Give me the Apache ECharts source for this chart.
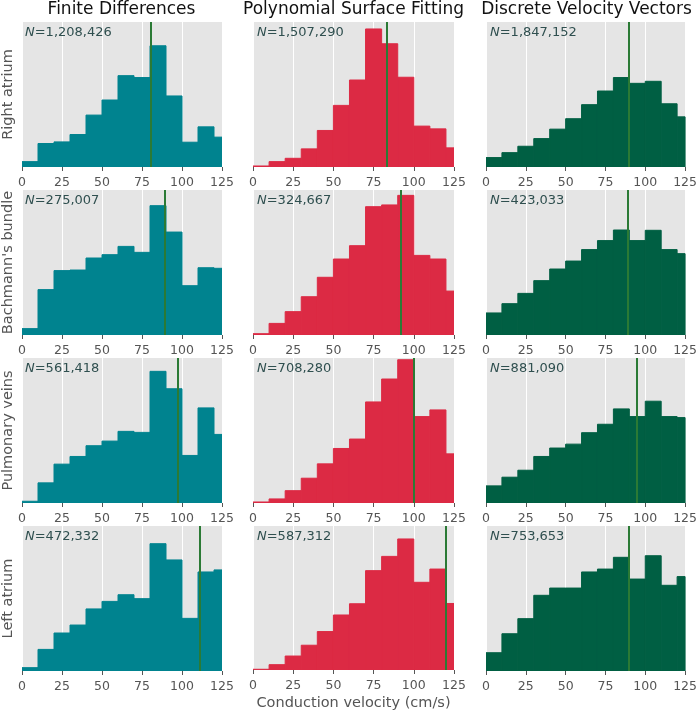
<!DOCTYPE html>
<html><head><meta charset="utf-8">
<script src="https://cdn.jsdelivr.net/npm/echarts@6/dist/echarts.min.js"></script>
<style>html,body{margin:0;padding:0;background:#fff}#c{width:700px;height:712px}</style>
</head><body><div id="c"></div>
<script>
// Bin edges (cm/s), width 10; last bin runs past 125 and is clipped
const binStarts = [0,10,20,30,40,50,60,70,80,90,100,110,120];
const binWidth = 10;
const methods = ['Finite Differences','Polynomial Surface Fitting','Discrete Velocity Vectors'];
const regions = ['Right atrium',"Bachmann's bundle",'Pulmonary veins','Left atrium'];
const xTicks = [0,25,50,75,100,125];

// Relative histogram heights (percent of panel height)
const raFD  = [3.7,16.2,17.3,22.4,35.8,46.2,63.0,61.7,83.6,49.0,17.1,27.7,20.6];
const raPSF = [0.7,3.7,6.0,12.5,25.2,42.5,60.0,95.2,85.0,61.9,28.2,26.3,13.2];
const raDVV = [6.5,9.9,14.3,19.6,26.1,33.3,43.0,52.4,61.7,57.7,59.1,43.6,34.6];
const bbFD  = [4.4,31.3,44.4,44.8,53.1,55.4,61.1,57.0,89.2,71.0,34.0,46.4,46.0];
const bbPSF = [0.9,8.0,16.1,26.4,39.8,52.4,61.6,88.5,89.7,96.3,54.9,52.4,30.3];
const bbDVV = [15.2,21.6,28.7,37.5,45.5,51.0,58.9,65.1,72.4,65.1,72.2,58.9,56.1];
const pvFD  = [1.2,13.9,26.8,32.1,39.5,42.7,49.4,48.7,90.8,78.8,32.8,65.6,47.3];
const pvPSF = [0.7,2.8,8.5,17.1,27.0,37.6,44.1,69.7,85.5,98.8,59.6,64.2,33.9];
const pvDVV = [11.8,17.8,22.6,32.1,37.9,40.6,48.5,54.3,64.9,59.6,70.2,59.6,58.9];
const laFD  = [2.3,14.9,26.2,31.7,42.8,48.0,52.6,49.9,87.8,76.6,36.3,68.3,69.7];
const laPSF = [0.5,3.7,9.7,17.2,26.7,38.2,46.0,69.0,78.9,91.0,60.9,70.1,46.2];
const laDVV = [12.6,25.7,36.1,52.2,57.2,57.2,68.3,70.3,78.4,63.4,79.5,59.1,65.1];

const heights = [[raFD,raPSF,raDVV],[bbFD,bbPSF,bbDVV],[pvFD,pvPSF,pvDVV],[laFD,laPSF,laDVV]];
// Mean lines (cm/s)
const means = [[80.3,83.1,89.6],[89.4,91.9,88.9],[97.1,99.8,94.5],[110.9,120.0,89.6]];
const counts = [['1,208,426','1,507,290','1,847,152'],['275,007','324,667','423,033'],
                ['561,418','708,280','881,090'],['472,332','587,312','753,653']];

const colors = ['#00838f','#dc2a44','#005f43'];
const lineColor = '#2b7a35';
const colLeft = [21,253,486], plotW = 201;
const rowTop = [22,190,358,526], plotH = 145;
const font = 'DejaVu Sans';

const grid=[], xAxis=[], yAxis=[], series=[], title=[];
let k=0;
for (let r=0;r<4;r++){
  for (let c=0;c<3;c++){
    grid.push({left:colLeft[c], top:rowTop[r], width:plotW, height:plotH,
      show:true, backgroundColor:'#e5e5e5', borderWidth:0});
    xAxis.push({type:'value', gridIndex:k, min:0, max:125, interval:25,
      axisLine:{show:false},
      axisTick:{show:true, length:4, lineStyle:{color:'#555'}},
      axisLabel:{color:'#555', fontSize:12.5, fontFamily:font, margin:9},
      splitLine:{show:true, lineStyle:{color:'#ffffff', width:1}},
      name:(r===3&&c===1)?'Conduction velocity (cm/s)':'',
      nameLocation:'middle', nameGap:26,
      nameTextStyle:{color:'#555', fontSize:14.5, fontFamily:font}});
    yAxis.push({type:'value', gridIndex:k, min:0, max:100,
      show:true, axisLine:{show:false}, axisTick:{show:false}, axisLabel:{show:false},
      splitLine:{show:false},
      name:c===0?regions[r]:'', nameLocation:'middle', nameGap:6, nameRotate:90,
      nameTextStyle:{color:'#555', fontSize:14.5, fontFamily:font}});
    const data = binStarts.map((s,i)=>[s, s+binWidth, heights[r][c][i]]);
    series.push({type:'custom', xAxisIndex:k, yAxisIndex:k, clip:true, data:data,
      encode:{x:[0,1], y:2},
      renderItem:(params, api)=>{
        const p0 = api.coord([api.value(0), 0]);
        const p1 = api.coord([api.value(1), api.value(2)]);
        const rect = echarts.graphic.clipRectByRect(
          {x:p0[0], y:p1[1], width:p1[0]-p0[0], height:p0[1]-p1[1]},
          {x:params.coordSys.x, y:params.coordSys.y, width:params.coordSys.width, height:params.coordSys.height});
        return rect && {type:'rect', shape:rect, style:{fill:colors[c], stroke:colors[c], lineWidth:1}};
      },
      markLine:{silent:true, symbol:'none', animation:false,
        label:{show:false},
        lineStyle:{color:lineColor, width:2, type:'solid'},
        data:[{xAxis:means[r][c]}]},
      z:2});
    title.push({text:'{i|N}=' + counts[r][c], left:colLeft[c]+4, top:rowTop[r]+4, padding:0,
      textStyle:{fontSize:13, fontWeight:'normal', fontFamily:font, color:'#2f4f4f',
        rich:{i:{fontStyle:'italic', fontSize:13, fontFamily:font, color:'#2f4f4f'}}}});
    k++;
  }
}
for (let c=0;c<3;c++){
  title.push({text:methods[c], left:colLeft[c]+plotW/2, textAlign:'center', top:1, padding:0,
    textStyle:{fontSize:17, fontWeight:'normal', fontFamily:font, color:'#111'}});
}

const chart = echarts.init(document.getElementById('c'), null, {renderer:'canvas'});
chart.setOption({animation:false, backgroundColor:'#ffffff', title, grid, xAxis, yAxis, series});
</script></body></html>
